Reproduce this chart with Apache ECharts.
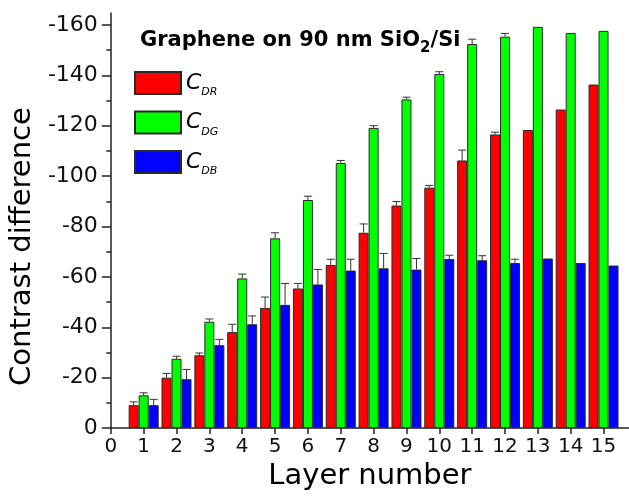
<!DOCTYPE html>
<html><head><meta charset="utf-8">
<script src="https://cdn.jsdelivr.net/npm/echarts@6/dist/echarts.min.js"></script>
<style>html,body{margin:0;padding:0;background:#fff}#c{width:629px;height:496px}</style>
</head><body><div id="c"></div>
<script>
const layers = [1,2,3,4,5,6,7,8,9,10,11,12,13,14,15];
const xTicks = [0,1,2,3,4,5,6,7,8,9,10,11,12,13,14,15];
const yTicks = [0,-20,-40,-60,-80,-100,-120,-140,-160];
const yMinorTicks = [-10,-30,-50,-70,-90,-110,-130,-150];
const seriesNames = ['CDR','CDG','CDB'];
const seriesSubs = ['DR','DG','DB'];
const redVals   = [-9.1,-20.0,-28.9,-38.1,-47.7,-55.4,-64.7,-77.5,-88.3,-95.4,-106.2,-116.5,-118.3,-126.4,-136.3];
const greenVals = [-13.0,-27.5,-42.2,-59.4,-75.3,-90.5,-105.2,-119.1,-130.4,-140.5,-152.4,-155.3,-159.2,-156.8,-157.6];
const blueVals  = [-9.1,-19.4,-32.9,-41.2,-48.9,-57.0,-62.5,-63.4,-62.9,-67.1,-66.6,-65.5,-67.3,-65.5,-64.5];
const redErr   = [1.3,1.7,0.9,3.1,4.3,2.0,2.3,3.5,1.6,0.9,4.1,0.9,0,0,0];
const greenErr = [1.0,1.0,1.1,1.7,2.2,1.5,1.0,0.9,0.9,0.9,1.9,1.3,0,0,0];
const blueErr  = [2.3,3.9,2.3,3.3,8.5,5.9,4.5,5.9,4.4,1.5,1.8,1.5,0,0,0];
const titleText = 'Graphene on 90 nm SiO';
const xName = 'Layer number';
const yName = 'Contrast difference';

const FONT = 'DejaVu Sans';
const BAR_W = 10;
const colors = ['#ff0000','#00ff00','#0000ff'];
const valsAll = [redVals, greenVals, blueVals];
const errsAll = [redErr, greenErr, blueErr];

const chart = echarts.init(document.getElementById('c'));

const barSeries = valsAll.map((vals, k) => ({
  name: seriesNames[k], type: 'bar', xAxisIndex: 0, yAxisIndex: 0,
  barWidth: BAR_W, barGap: '0%',
  itemStyle: { color: colors[k], borderColor: '#2a2a2a', borderWidth: 1 },
  data: layers.map((x, i) => [x, vals[i]]),
  z: 2
}));

const errSeries = valsAll.map((vals, k) => ({
  type: 'custom', xAxisIndex: 0, yAxisIndex: 0, silent: true, z: 3,
  data: layers.map((x, i) => [x, vals[i], errsAll[k][i]]),
  renderItem: function (params, api) {
    const x = api.value(0), v = api.value(1), e = api.value(2);
    if (!e) return null;
    const p0 = api.coord([x, v]);
    const p1 = api.coord([x, v - e]);
    const cx = p0[0] + (k - 1) * BAR_W;
    return { type: 'group', children: [
      { type: 'line', shape: { x1: cx, y1: p0[1], x2: cx, y2: p1[1] }, style: { stroke: '#333', lineWidth: 1 } },
      { type: 'line', shape: { x1: cx - 4, y1: p1[1], x2: cx + 4, y2: p1[1] }, style: { stroke: '#333', lineWidth: 1 } }
    ]};
  }
}));

chart.setOption({
  animation: false,
  backgroundColor: '#fff',
  textStyle: { fontFamily: FONT },
  title: {
    left: 135, top: 21,
    text: '{b|' + titleText + '}{s|2}{b|/Si}',
    textStyle: {
      rich: {
        b: { fontFamily: FONT, fontWeight: 'bold', fontSize: 21, color: '#000', lineHeight: 30 },
        s: { fontFamily: FONT, fontWeight: 'bold', fontSize: 15, color: '#000', lineHeight: 10, verticalAlign: 'bottom' }
      }
    }
  },
  legend: {
    data: seriesNames, orient: 'vertical', left: 129, top: 66,
    itemWidth: 46, itemHeight: 22, itemGap: 12.5, icon: 'rect',
    formatter: function (name) { return '{c|C}{s|' + seriesSubs[seriesNames.indexOf(name)] + '}'; },
    textStyle: {
      rich: {
        c: { fontFamily: FONT, fontStyle: 'italic', fontSize: 22, color: '#000', lineHeight: 30 },
        s: { fontFamily: FONT, fontStyle: 'italic', fontSize: 11, color: '#000', lineHeight: 6, verticalAlign: 'bottom' }
      }
    }
  },
  grid: { left: 110, right: 0, top: 13, bottom: 59.3, containLabel: false },
  xAxis: {
    type: 'value', min: 0, max: 15.775,
    name: xName, nameLocation: 'middle', nameGap: 29,
    nameTextStyle: { fontFamily: FONT, fontSize: 29, color: '#000' },
    axisLine: { show: true, lineStyle: { color: '#222', width: 1.5 } },
    axisTick: { show: true, length: 6, customValues: xTicks, lineStyle: { color: '#222', width: 1.5 } },
    axisLabel: { customValues: xTicks, fontFamily: FONT, fontSize: 20, color: '#111', margin: 9,
      formatter: v => (Number.isInteger(v) ? String(v) : '') },
    splitLine: { show: false }
  },
  yAxis: [{
    type: 'value', inverse: true, min: -164.7, max: 0, position: 'left',
    name: yName, nameLocation: 'middle', nameGap: 70, nameRotate: 90,
    nameTextStyle: { fontFamily: FONT, fontSize: 29, color: '#000', padding: [0, 52, 0, 0] },
    axisLine: { show: true, lineStyle: { color: '#222', width: 1.5 } },
    axisTick: { show: true, length: 9, customValues: yTicks, lineStyle: { color: '#222', width: 1.5 } },
    axisLabel: { customValues: yTicks, fontFamily: FONT, fontSize: 22, color: '#111', margin: 13 },
    splitLine: { show: false }
  }, {
    type: 'value', inverse: true, min: -164.7, max: 0, position: 'left',
    axisLine: { show: false },
    axisTick: { show: true, length: 4.5, customValues: yMinorTicks, lineStyle: { color: '#222', width: 1.5 } },
    axisLabel: { show: false },
    splitLine: { show: false }
  }],
  series: barSeries.concat(errSeries)
});
</script></body></html>
